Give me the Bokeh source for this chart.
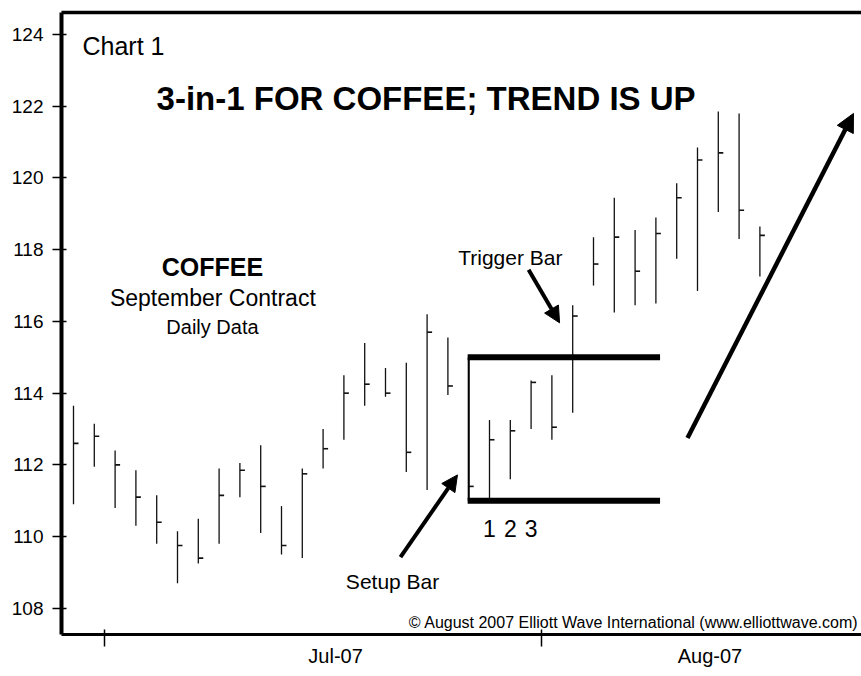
from bokeh.plotting import figure
from bokeh.models import (ColumnDataSource, Range1d, FixedTicker, LinearAxis, Arrow,
                          NormalHead)
from bokeh.core.properties import value
from bokeh.embed import file_html
from bokeh.resources import INLINE

# ---- data (daily bars, index 0 = Jun 28 2007) ----
high = [113.65, 113.15, 112.4, 111.85, 111.15, 110.15, 110.5, 111.9, 112.05, 112.55,
        110.85, 111.9, 113.0, 114.5, 115.4, 114.7, 114.85, 116.2, 115.55, 115.0,
        113.25, 113.25, 114.35, 114.5, 116.45, 118.35, 119.45, 118.55, 118.9, 119.85,
        120.85, 121.85, 121.8, 118.65]
low = [110.9, 111.95, 110.8, 110.3, 109.8, 108.7, 109.25, 109.8, 111.1, 110.1,
       109.5, 109.4, 111.9, 112.7, 113.65, 113.9, 111.8, 111.3, 113.95, 111.0,
       111.05, 111.6, 113.0, 112.7, 113.45, 117.0, 116.25, 116.45, 116.5, 117.75,
       116.85, 119.05, 118.3, 117.25]
close = [112.6, 112.8, 112.0, 111.1, 110.4, 109.75, 109.4, 111.15, 111.85, 111.4,
         109.75, 111.75, 112.45, 114.0, 114.25, 114.0, 112.35, 115.7, 114.2, 111.4,
         112.7, 112.95, 114.3, 113.05, 116.15, 117.6, 118.35, 117.4, 118.45, 119.45,
         120.5, 120.7, 119.1, 118.4]
idx = list(range(len(high)))

y_ticks = [108, 110, 112, 114, 116, 118, 120, 122, 124]
month_ticks = [1.5, 22.5]
month_labels = ["Jul-07", "Aug-07"]
month_label_x = [12.6, 30.6]

setup_index = 19
box_end = 28.2
count_labels = ["1", "2", "3"]
count_index = [20, 21, 22]

# arrows: trend, setup, trigger
arrow_x0 = [29.52, 15.72, 21.88]
arrow_y0 = [112.75, 109.43, 117.44]
arrow_x1 = [37.5, 18.46, 23.37]
arrow_y1 = [121.8, 111.72, 115.96]

FONT = "Liberation Sans"

p = figure(frame_width=800, frame_height=622, output_backend="svg",
           toolbar_location=None,
           x_range=Range1d(-0.577, 37.885), y_range=Range1d(107.27, 124.614),
           min_border_left=61, min_border_right=0, min_border_top=12,
           min_border_bottom=40)
p.background_fill_color = "white"
p.border_fill_color = "white"
p.outline_line_color = None
p.xgrid.visible = False
p.ygrid.visible = False

# y axis
ya = p.yaxis[0]
ya.ticker = FixedTicker(ticks=y_ticks)
ya.axis_line_width = 4
ya.axis_line_color = "black"
ya.major_tick_in = 5
ya.major_tick_out = 9
ya.major_tick_line_width = 1.5
ya.major_tick_line_color = "black"
ya.minor_tick_line_color = None
ya.major_label_text_font = FONT
ya.major_label_text_font_size = "19px"
ya.major_label_text_color = "black"
ya.major_label_standoff = 9

# x axis: month boundaries as minor ticks, month names as labels
xa = p.xaxis[0]
xa.ticker = FixedTicker(ticks=month_label_x, minor_ticks=month_ticks)
xa.major_label_overrides = {t: s for t, s in zip(month_label_x, month_labels)}
xa.axis_line_width = 3
xa.axis_line_color = "black"
xa.major_tick_in = 0
xa.major_tick_out = 0
xa.major_tick_line_color = None
xa.minor_tick_in = 5
xa.minor_tick_out = 12
xa.minor_tick_line_width = 1.5
xa.minor_tick_line_color = "black"
xa.major_label_text_font = FONT
xa.major_label_text_font_size = "20px"
xa.major_label_text_color = "black"
xa.major_label_standoff = -2

# top border
top = LinearAxis(ticker=FixedTicker(ticks=[]), major_tick_in=0, major_tick_out=0,
                 minor_tick_in=0, minor_tick_out=0, major_label_text_font_size="0px",
                 axis_line_width=3.5, axis_line_color="black")
p.add_layout(top, "above")

src = ColumnDataSource(dict(x=idx, hi=high, lo=low, cl=close,
                            xt=[i + 0.24 for i in idx]))
p.segment(x0="x", y0="lo", x1="x", y1="hi", source=src, line_color="#111111",
          line_width=1.3)
p.segment(x0="x", y0="cl", x1="xt", y1="cl", source=src, line_color="#111111",
          line_width=1.6)

# 3-in-1 box from setup bar
p.segment(x0=[setup_index - 0.05] * 2, x1=[box_end] * 2,
          y0=[high[setup_index], low[setup_index]],
          y1=[high[setup_index], low[setup_index]],
          line_color="black", line_width=6, line_cap="butt")
p.segment(x0=[setup_index], x1=[setup_index], y0=[low[setup_index]], y1=[high[setup_index]],
          line_color="black", line_width=2)

# arrows
head_sizes = [18, 16, 16]
line_ws = [4.5, 4, 4]
for x0, y0, x1, y1, hs, lw in zip(arrow_x0, arrow_y0, arrow_x1, arrow_y1, head_sizes, line_ws):
    p.add_layout(Arrow(end=NormalHead(size=hs, fill_color="black", line_color="black"),
                       x_start=x0, y_start=y0, x_end=x1, y_end=y1,
                       line_width=lw, line_color="black"))

def txt(x, y, s, size, align="left", bold=False, baseline="alphabetic"):
    p.text(x=[x], y=[y], text=[s], text_font=value(FONT), text_font_size=size,
           text_align=align, text_baseline=baseline, text_color="black",
           text_font_style="bold" if bold else "normal")

txt(0.43, 123.67, "Chart 1", "25px")
txt(16.95, 122.21, "3-in-1 FOR COFFEE; TREND IS UP", "33px", align="center", bold=True)
txt(6.68, 117.51, "COFFEE", "25px", align="center", bold=True)
txt(6.7, 116.65, "September Contract", "23px", align="center")
txt(6.68, 115.85, "Daily Data", "20px", align="center")
txt(21.0, 117.78, "Trigger Bar", "21px", align="center")
txt(15.34, 108.74, "Setup Bar", "21px", align="center")
for lab, ci in zip(count_labels, count_index):
    txt(ci, 110.22, lab, "23px", align="center")
txt(37.74, 107.6, "\u00a9 August 2007 Elliott Wave International (www.elliottwave.com)",
    "16px", align="right")

open("out.html", "w").write(file_html(p, INLINE))
